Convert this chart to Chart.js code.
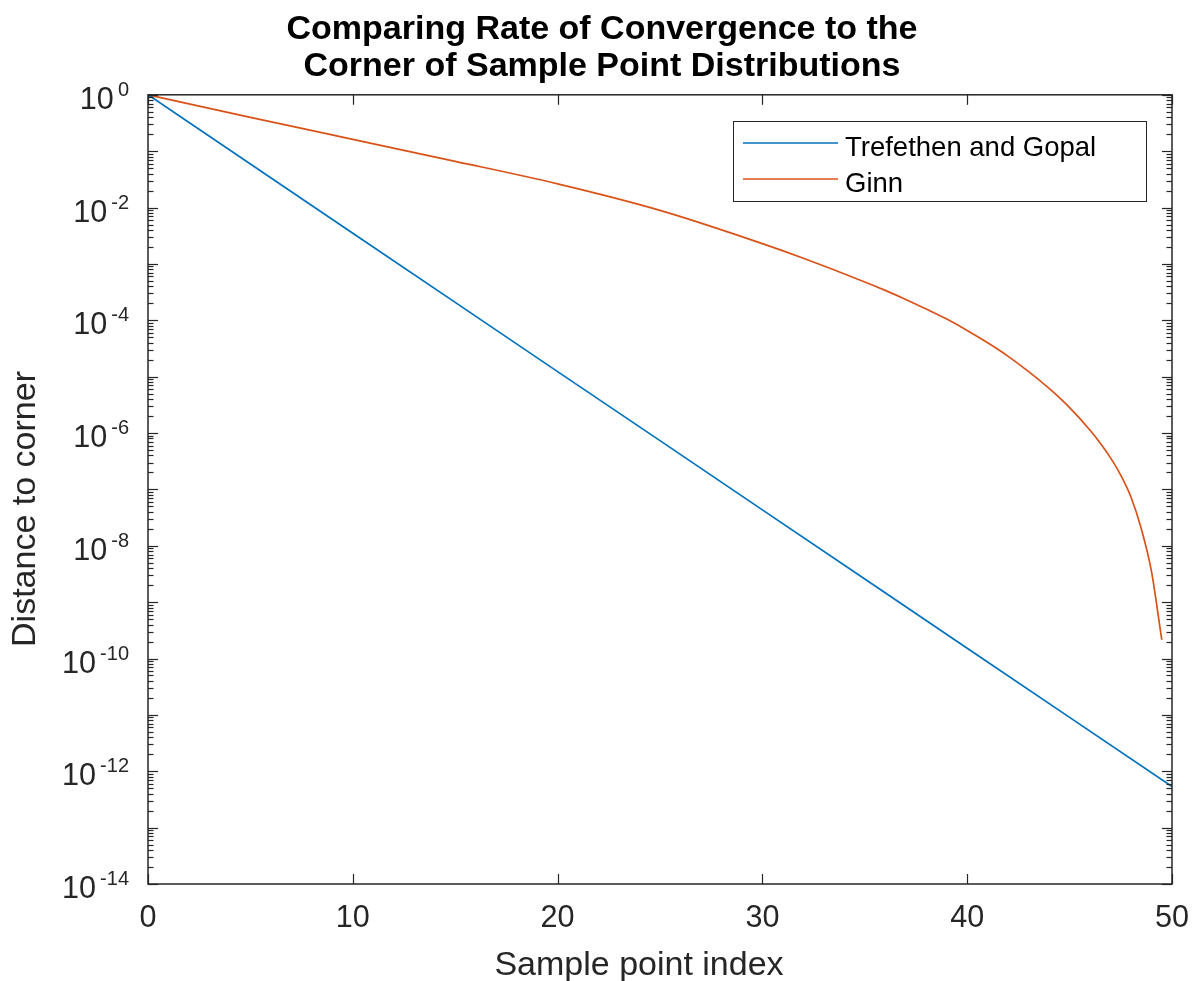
<!DOCTYPE html>
<html>
<head>
<meta charset="utf-8">
<title>Comparing Rate of Convergence</title>
<script src="https://cdn.jsdelivr.net/npm/chart.js@4.4.1/dist/chart.umd.min.js"></script>
<style>
  html, body { margin: 0; padding: 0; background: #fff; }
</style>
</head>
<body>
<canvas id="chart" width="1193" height="981"></canvas>
<script>
// data
const titleLines = ['Comparing Rate of Convergence to the', 'Corner of Sample Point Distributions'];
const xLabel = 'Sample point index';
const yLabel = 'Distance to corner';
const seriesNames = ['Trefethen and Gopal', 'Ginn'];

const trefethenIdx = [0, 5, 10, 15, 20, 25, 30, 35, 40, 45, 50];
const trefethenDist = [1, 5.93e-2, 3.51e-3, 2.08e-4, 1.23e-5, 7.33e-7, 4.34e-8, 2.57e-9, 1.52e-10, 9.03e-12, 5.35e-13];

const ginnIdx = [0, 5, 10, 15, 20, 25, 30, 32, 35, 36, 37, 38, 39, 40, 41, 42, 43, 44, 45, 46, 46.5, 47, 47.5, 48, 48.5, 49, 49.5];
const ginnDist = [1, 0.398, 0.162, 0.0661, 0.0263, 8.91e-3, 2.29e-3, 1.26e-3, 4.79e-4, 3.39e-4, 2.34e-4, 1.58e-4,
  1.05e-4, 6.61e-5, 3.98e-5, 2.29e-5, 1.23e-5, 6.17e-6, 2.82e-6, 1.12e-6, 6.61e-7, 3.63e-7, 1.78e-7, 7.24e-8,
  2.00e-8, 3.47e-9, 2.14e-10];

const xTicks = [0, 10, 20, 30, 40, 50];
const yTickExps = [0, -2, -4, -6, -8, -10, -12, -14];

const FONT = "'Liberation Sans', Arial, Helvetica, sans-serif";
const AXIS = '#262626';

function toPoints(xs, ys) {
  return xs.map((x, i) => ({ x: x, y: ys[i] }));
}

function line(ctx, x1, y1, x2, y2) {
  ctx.beginPath();
  ctx.moveTo(x1, y1);
  ctx.lineTo(x2, y2);
  ctx.stroke();
}

// matlab style box, inward ticks, superscript labels, legend inside the axes
const matlabAxes = {
  id: 'matlabAxes',
  afterDatasetsDraw(chart) {
    const ctx = chart.ctx;
    const xs = chart.scales.x, ys = chart.scales.y;
    const { left, right, top, bottom } = chart.chartArea;
    ctx.save();

    ctx.strokeStyle = AXIS;
    ctx.lineWidth = 1.2;
    xTicks.forEach(v => {
      const px = Math.round(xs.getPixelForValue(v)) + 0.5;
      line(ctx, px, bottom, px, bottom - 10);
      line(ctx, px, top, px, top + 10);
    });
    for (let e = -14; e <= 0; e++) {
      const py = Math.round(ys.getPixelForValue(Math.pow(10, e))) + 0.5;
      line(ctx, left, py, left + 10, py);
      line(ctx, right, py, right - 10, py);
      if (e === 0) continue;
      for (let m = 2; m <= 9; m++) {
        const my = Math.round(ys.getPixelForValue(m * Math.pow(10, e))) + 0.5;
        line(ctx, left, my, left + 5.5, my);
        line(ctx, right, my, right - 5.5, my);
      }
    }

    ctx.lineWidth = 1.5;
    ctx.strokeRect(left, top, right - left, bottom - top);

    // tick labels
    ctx.fillStyle = AXIS;
    ctx.font = '30.6px ' + FONT;
    ctx.textAlign = 'center';
    ctx.textBaseline = 'alphabetic';
    xTicks.forEach(v => {
      ctx.fillText(String(v), xs.getPixelForValue(v), bottom + 43);
    });

    const labelRight = left - 19;
    yTickExps.forEach(e => {
      const py = ys.getPixelForValue(Math.pow(10, e));
      const ex = String(e);
      ctx.font = '20px ' + FONT;
      ctx.textAlign = 'right';
      ctx.fillText(ex, labelRight, py + 1);
      const w = ctx.measureText(ex).width;
      ctx.font = '30.6px ' + FONT;
      ctx.fillText('10', labelRight - w - 4, py + 14);
    });

    // axis labels
    ctx.font = '34px ' + FONT;
    ctx.textAlign = 'center';
    ctx.fillText(xLabel, 639, 975);
    ctx.save();
    ctx.translate(35, 509);
    ctx.rotate(-Math.PI / 2);
    ctx.fillText(yLabel, 0, 0);
    ctx.restore();

    // legend
    const lx = 733, ly = 121, lw = 413, lh = 80;
    ctx.fillStyle = '#fff';
    ctx.fillRect(lx, ly, lw, lh);
    ctx.strokeStyle = AXIS;
    ctx.lineWidth = 1;
    ctx.strokeRect(lx + 0.5, ly + 0.5, lw, lh);
    ctx.font = '27.5px ' + FONT;
    ctx.textAlign = 'left';
    chart.data.datasets.forEach((ds, i) => {
      const yy = ly + 22 + i * 36;
      ctx.strokeStyle = ds.borderColor;
      ctx.lineWidth = ds.borderWidth;
      line(ctx, lx + 10, yy, lx + 105, yy);
      ctx.fillStyle = '#000';
      ctx.fillText(ds.label, lx + 112, yy + 12.5);
    });

    ctx.restore();
  }
};

new Chart(document.getElementById('chart'), {
  type: 'line',
  data: {
    datasets: [
      {
        label: seriesNames[0],
        data: toPoints(trefethenIdx, trefethenDist),
        borderColor: '#0072BD',
        borderWidth: 1.7,
        pointRadius: 0,
        tension: 0,
        fill: false
      },
      {
        label: seriesNames[1],
        data: toPoints(ginnIdx, ginnDist),
        borderColor: '#D95319',
        borderWidth: 1.7,
        pointRadius: 0,
        cubicInterpolationMode: 'monotone',
        fill: false
      }
    ]
  },
  options: {
    responsive: false,
    animation: false,
    layout: { padding: { left: 32, right: 21, top: 0, bottom: 0 } },
    plugins: {
      legend: { display: false },
      tooltip: { enabled: false },
      title: {
        display: true,
        text: titleLines,
        color: '#000',
        font: { family: FONT, size: 34, weight: 'bold', lineHeight: 1.1 },
        padding: { top: 11, bottom: 9 }
      }
    },
    scales: {
      x: {
        type: 'linear',
        min: 0,
        max: 50,
        grid: { display: false },
        border: { display: false },
        ticks: { display: false },
        afterFit(scale) { scale.height = 97; }
      },
      y: {
        type: 'logarithmic',
        min: 1e-14,
        max: 1,
        grid: { display: false },
        border: { display: false },
        ticks: { display: false },
        afterFit(scale) { scale.width = 116; }
      }
    }
  },
  plugins: [matlabAxes]
});
</script>
</body>
</html>
